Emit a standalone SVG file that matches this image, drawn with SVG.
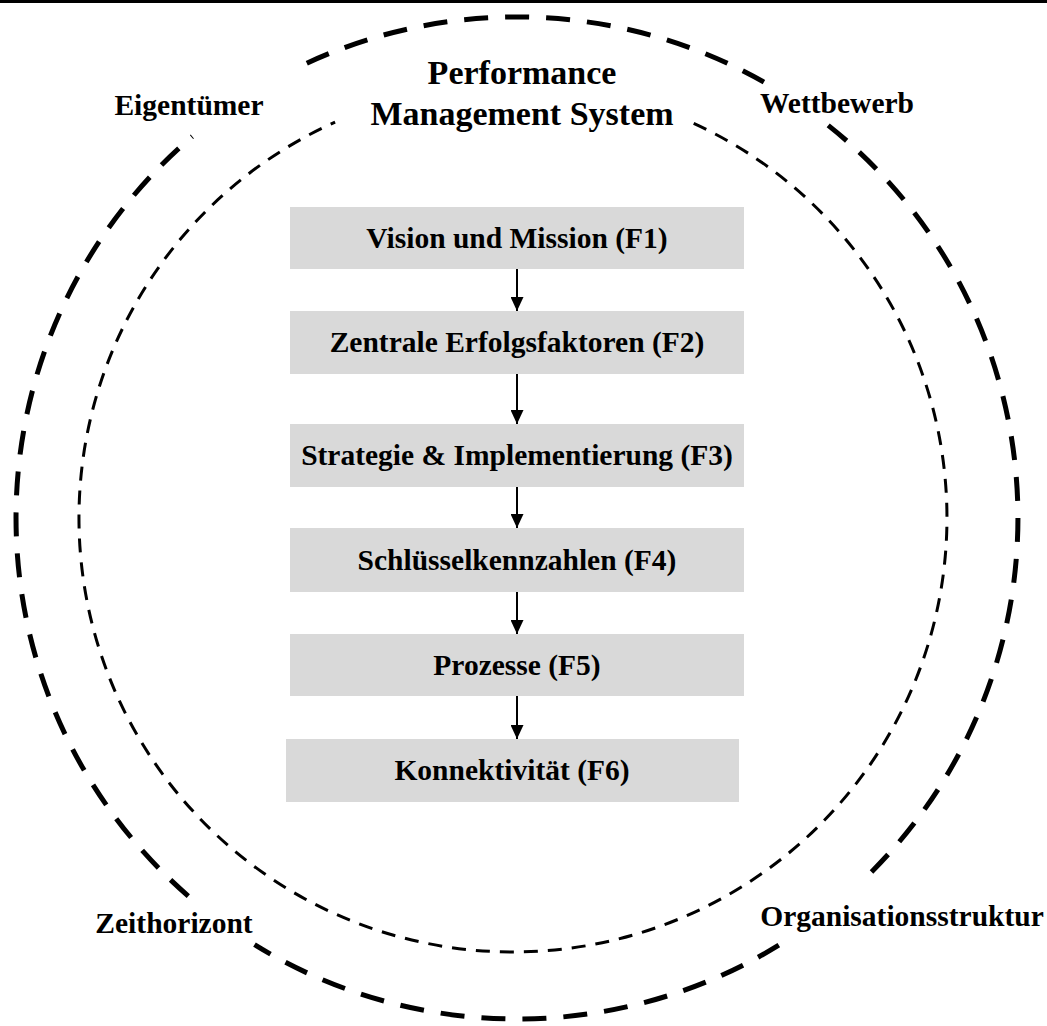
<svg xmlns="http://www.w3.org/2000/svg" width="1047" height="1026" viewBox="0 0 1047 1026">
  <style>
    .txt { font-family: "Liberation Serif", "Times New Roman", serif; font-weight: bold; fill: #000; }
    .box { fill: #d9d9d9; }
    .outer { fill: none; stroke: #000; stroke-width: 5; stroke-dasharray: 24 17; }
    .inner { fill: none; stroke: #000; stroke-width: 3; stroke-dasharray: 14 10; }
    .link { stroke: #000; stroke-width: 2; fill: none; }
  </style>
  <defs>
    <marker id="arrow" viewBox="0 0 14 13" refX="14" refY="6.5" markerWidth="14" markerHeight="13" markerUnits="userSpaceOnUse" orient="auto">
      <path d="M0,0 L14,6.5 L0,13 Z" fill="#000"/>
    </marker>
  </defs>

  <rect width="1047" height="1026" fill="#fff"/>
  <!-- top rule -->
  <rect x="0" y="0" width="1047" height="3" fill="#000"/>

  <!-- outer environment ring, interrupted at the four corner labels -->
  <g id="outer-ring">
    <path class="outer" d="M306.8,63.2 A501,501 0 0 1 772.8,87.2"/>
    <path class="outer" d="M828.2,125.4 A501,501 0 0 1 859.9,883.2"/>
    <path class="outer" d="M778.8,945.2 A501,501 0 0 1 254.5,944.7"/>
    <path class="outer" d="M188.3,896.1 A501,501 0 0 1 192.3,136.5"/>
  </g>

  <!-- inner system ring, open at the top for the title -->
  <g id="inner-ring">
    <path class="inner" d="M693.7,123.4 A434,434 0 1 1 335.1,122.1"/>
  </g>

  <g id="title">
    <text class="txt" x="522" y="84" font-size="34" text-anchor="middle">Performance</text>
    <text class="txt" x="522" y="125" font-size="34" text-anchor="middle">Management System</text>
  </g>

  <g id="label-eigentuemer"><text class="txt" x="189" y="115" font-size="29.5" text-anchor="middle">Eigentümer</text></g>
  <g id="label-wettbewerb"><text class="txt" x="837" y="113" font-size="29.5" text-anchor="middle">Wettbewerb</text></g>
  <g id="label-zeithorizont"><text class="txt" x="174" y="933" font-size="29.5" text-anchor="middle">Zeithorizont</text></g>
  <g id="label-organisation"><text class="txt" x="902" y="926" font-size="29.5" text-anchor="middle">Organisationsstruktur</text></g>

  <g id="f1">
    <rect class="box" x="290" y="207" width="454" height="62"/>
    <text class="txt" x="517" y="248" font-size="29.5" text-anchor="middle">Vision und Mission (F1)</text>
  </g>
  <g id="f2">
    <rect class="box" x="290" y="311" width="454" height="63"/>
    <text class="txt" x="517" y="352" font-size="29.5" text-anchor="middle">Zentrale Erfolgsfaktoren (F2)</text>
  </g>
  <g id="f3">
    <rect class="box" x="290" y="424" width="454" height="63"/>
    <text class="txt" x="517" y="465" font-size="29.5" text-anchor="middle">Strategie &amp; Implementierung (F3)</text>
  </g>
  <g id="f4">
    <rect class="box" x="290" y="528" width="454" height="64"/>
    <text class="txt" x="517" y="570" font-size="29.5" text-anchor="middle">Schlüsselkennzahlen (F4)</text>
  </g>
  <g id="f5">
    <rect class="box" x="290" y="634" width="454" height="62"/>
    <text class="txt" x="517" y="675" font-size="29.5" text-anchor="middle">Prozesse (F5)</text>
  </g>
  <g id="f6">
    <rect class="box" x="286" y="739" width="453" height="63"/>
    <text class="txt" x="512" y="780" font-size="29.5" text-anchor="middle">Konnektivität (F6)</text>
  </g>

  <g id="connectors">
    <line class="link" x1="517" y1="269" x2="517" y2="311" marker-end="url(#arrow)"/>
    <line class="link" x1="517" y1="374" x2="517" y2="424" marker-end="url(#arrow)"/>
    <line class="link" x1="517" y1="487" x2="517" y2="528" marker-end="url(#arrow)"/>
    <line class="link" x1="517" y1="592" x2="517" y2="634" marker-end="url(#arrow)"/>
    <line class="link" x1="517" y1="696" x2="517" y2="739" marker-end="url(#arrow)"/>
  </g>
</svg>
